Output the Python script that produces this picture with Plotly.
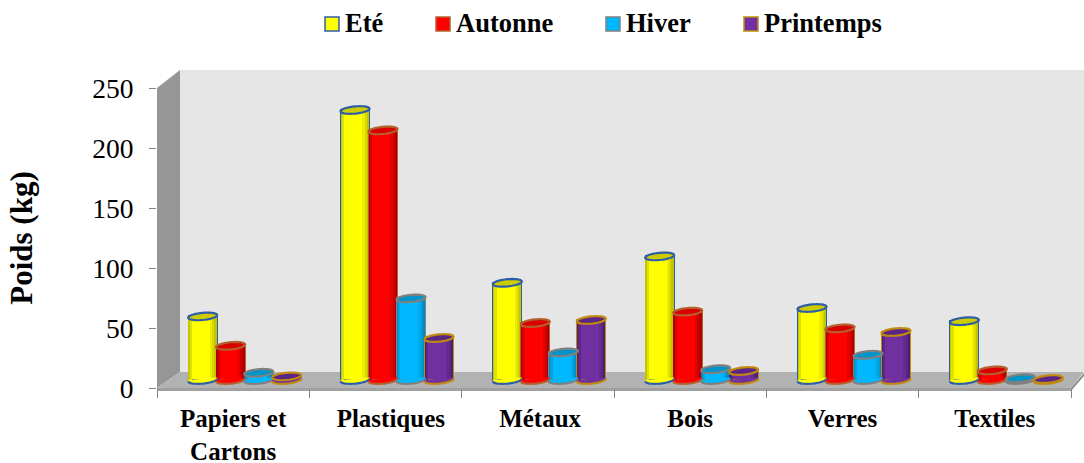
import math
import plotly.graph_objects as go

categories = ["Papiers et<br>Cartons", "Plastiques", "Métaux", "Bois", "Verres", "Textiles"]
ete = [53, 225, 81, 103, 60, 49]
automne = [28.5, 208, 47.5, 57, 43, 8]
hiver = [6, 68, 23, 9, 21, 1.5]
printemps = [3, 35, 50, 7.5, 40, 0.8]
y_ticks = [0, 50, 100, 150, 200, 250]
label_nudge = [0, 0.035, 0.015, 0, 0, 0]

FONT = "Liberation Serif"
W, H = 1084, 463
L, R, T, B = 157, 13, 88, 75
PW, PH = W - L - R, H - T - B
PX_X = PW / 6
PX_Y = PH / 250

series = [
    ("Eté", ete, "#ffff00", "#2f5ea8", "#cccc00", "#c4c400"),
    ("Autonne", automne, "#ff0000", "#b5602c", "#d80000", "#b00000"),
    ("Hiver", hiver, "#00b8ff", "#808080", "#0094c8", "#008cc0"),
    ("Printemps", printemps, "#7030a0", "#c08a10", "#5a2585", "#4c2070"),
]
legend_square_x = [325, 436, 606, 744]
legend_text_x = [344, 455, 625, 763]

DEPTH_X, DEPTH_Y = 23, 16
BASE = 8 / PX_Y
BAR_W = 28 / PX_X
STEP = 28 / PX_X
GROUP_SHIFT = 11.5 / PX_X
A = 14.5 / PX_X
EB = 3.6 / PX_Y
TILT = 1.3 / PX_Y

strips = [(0.00, 0.05, 1.0), (0.05, 0.12, 0.5), (0.76, 0.85, 0.3), (0.85, 0.93, 0.65), (0.93, 1.00, 1.0)]


def mix(c1, c2, t):
    a = [int(c1[i:i + 2], 16) for i in (1, 3, 5)]
    b = [int(c2[i:i + 2], 16) for i in (1, 3, 5)]
    return "#%02x%02x%02x" % tuple(round(p + (q - p) * t) for p, q in zip(a, b))


def pt(cx, cy, t):
    return cx + A * math.cos(t), cy + EB * math.sin(t) + TILT * math.cos(t)


def path_of(pts, close=True):
    return "M" + " L".join(f"{x:.4f},{y:.3f}" for x, y in pts) + (" Z" if close else "")


def ellipse(cx, cy):
    return path_of([pt(cx, cy, 2 * math.pi * k / 36) for k in range(36)])


def lower_arc(cx, cy):
    return [pt(cx, cy, math.pi + math.pi * k / 18) for k in range(19)]


def px(x, y, fill, layer="below"):
    path = "M" + " L".join(f"{(a - L) / PW:.5f},{(H - B - b) / PH:.5f}" for a, b in zip(x, y)) + " Z"
    return dict(type="path", path=path, xref="paper", yref="paper", fillcolor=fill, line=dict(width=0), layer=layer)


fig = go.Figure()
x0, x1 = L, L + PW
y0, y1 = H - B, T
shapes = [
    px([x0 + DEPTH_X, W, W, x0 + DEPTH_X], [y1 - 18, y1 - 18, y0 - DEPTH_Y, y0 - DEPTH_Y], "#e6e6e6"),
    px([x0, x0 + DEPTH_X, x0 + DEPTH_X, x0], [y1, y1 - 18, y0 - DEPTH_Y, y0], "#969696"),
    px([x0, x0 + DEPTH_X, W, x1], [y0, y0 - DEPTH_Y, y0 - DEPTH_Y, y0], "#b2b2b2"),
    px([x0, x1, x1, x0], [y0, y0, y0 + 3, y0 + 3], "#a0a0a0"),
    px([x1, W, W, x1], [y0, y0 - DEPTH_Y + 1, y0 - DEPTH_Y + 4, y0 + 3], "#8c8c8c"),
]

over = []
annotations = []
for s, (name, vals, col, edge, top, dark) in enumerate(series):
    centers = [i + 0.5 + GROUP_SHIFT + (s - 1.5) * STEP for i in range(len(vals))]
    fig.add_trace(go.Bar(
        x=centers, y=vals, base=[BASE] * len(vals), width=BAR_W, name=name, showlegend=False,
        marker=dict(color=col, line=dict(color=edge, width=2)),
    ))
    for a, b, t in strips:
        fig.add_trace(go.Bar(
            x=[c + ((a + b) / 2 - 0.5) * BAR_W for c in centers], y=vals, base=[BASE] * len(vals),
            width=(b - a) * BAR_W, showlegend=False, hoverinfo="skip",
            marker=dict(color=mix(col, dark, t), line=dict(width=0)),
        ))
    for c, v in zip(centers, vals):
        arc = lower_arc(c, BASE)
        lift = 1.3 / PX_Y
        filled = arc + [(arc[-1][0], arc[-1][1] + lift), (arc[0][0], arc[0][1] + lift)]
        over.append(dict(type="path", path=path_of(filled), xref="x", yref="y", fillcolor=col,
                         line=dict(width=0), layer="above"))
        over.append(dict(type="path", path=path_of(arc, close=False), xref="x", yref="y",
                         fillcolor="rgba(0,0,0,0)", line=dict(color=edge, width=2.2), layer="above"))
        over.append(dict(type="path", path=ellipse(c, BASE + v), xref="x", yref="y", fillcolor=top,
                         line=dict(color=edge, width=2.2), layer="above"))
    sq, tx = legend_square_x[s], legend_text_x[s]
    over.append(dict(type="rect", xref="paper", yref="paper",
                     x0=(sq - L) / PW, x1=(sq + 14 - L) / PW,
                     y0=(H - B - 31) / PH, y1=(H - B - 17) / PH,
                     fillcolor=col, line=dict(color=edge, width=1.5), layer="above"))
    annotations.append(dict(text=f"<b>{name}</b>", x=(tx - L) / PW, y=(H - B - 23) / PH, xref="paper", yref="paper",
                            xanchor="left", yanchor="middle", showarrow=False, xshift=-1,
                            font=dict(family=FONT, size=26.5, color="black")))

ticktext = ["<br>".join(f"<b>{p}</b>" for p in c.split("<br>")) for c in categories]

fig.update_layout(
    width=W, height=H, margin=dict(l=L, r=R, t=T, b=B, autoexpand=False),
    paper_bgcolor="white", plot_bgcolor="rgba(0,0,0,0)", barmode="overlay", bargap=0, showlegend=False,
    font=dict(family=FONT, color="black"),
    shapes=shapes + over, annotations=annotations,
    xaxis=dict(range=[0, 6], tickmode="array", tickvals=[i + 0.5 + label_nudge[i] for i in range(6)], ticktext=ticktext,
               ticks="", ticklen=0, ticklabelstandoff=13, tickfont=dict(family=FONT, size=25, color="black"),
               showline=False, showgrid=False, zeroline=False, fixedrange=True,
               minor=dict(tickmode="array", tickvals=list(range(7)), ticks="outside", ticklen=9, tickcolor="#868686", tickwidth=1, showgrid=False)),
    yaxis=dict(range=[0, 250], tickmode="array", tickvals=y_ticks, ticks="outside", ticklen=7, tickcolor="#868686",
               ticklabelstandoff=10, tickfont=dict(family=FONT, size=27.5, color="black"),
               showline=False, showgrid=False, zeroline=False, fixedrange=True,
               title=dict(text="<b>Poids (kg)</b>", font=dict(family=FONT, size=31, color="black"), standoff=50)),
)

fig.write_html("out.html", post_script="document.body.style.margin='0';document.body.style.overflow='hidden';", config={"displayModeBar": False})
